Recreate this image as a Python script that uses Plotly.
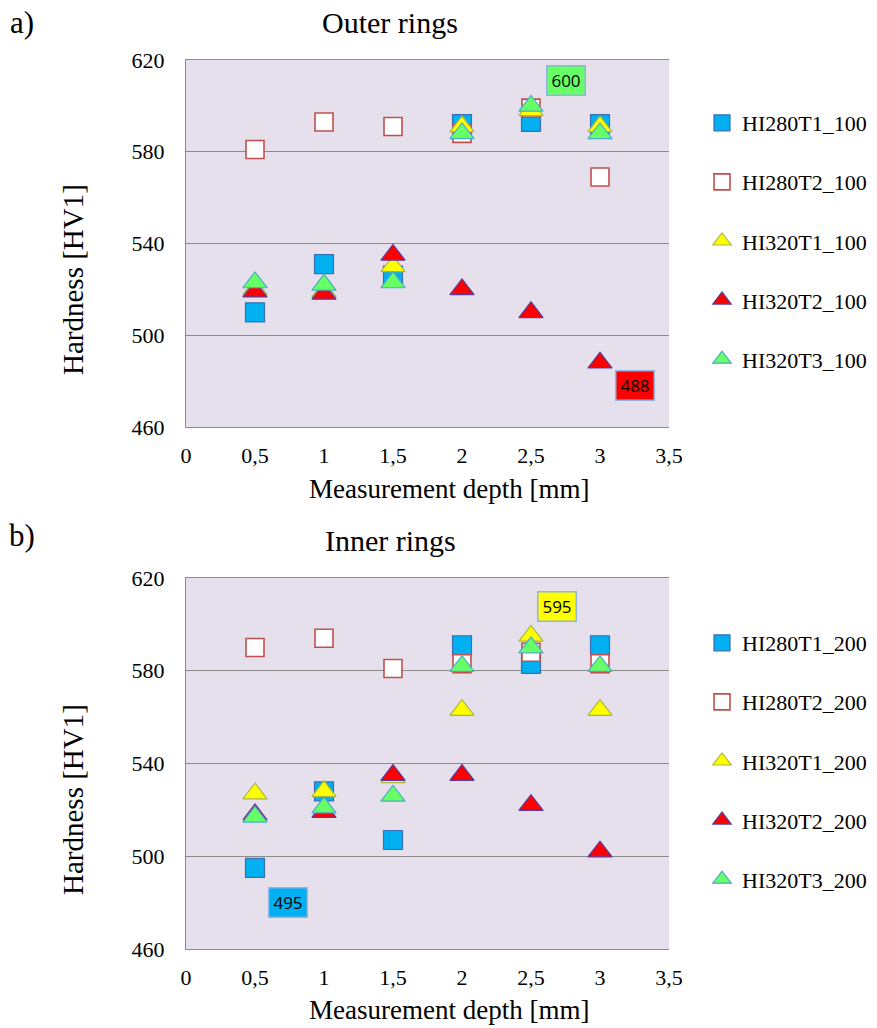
import plotly.graph_objects as go

# ---------------- data ----------------
depth = [0.5, 1, 1.5, 2, 2.5, 3]

# a) Outer rings
HI280T1_100 = [510, 531, 526, 592, 593, 592]
HI280T2_100 = [581, 593, 591, 588, 599, 569]
HI320T1_100 = [520, 519, 530, 591, 598, 591]
HI320T2_100 = [519, 518, 535, 520, 510, 488]
HI320T3_100 = [523, 522, 523, 588, 600, 588]

# b) Inner rings
HI280T1_200 = [495, 528, 507, 591, 583, 591]
HI280T2_200 = [590, 594, 581, 583, 588, 583]
HI320T1_200 = [527, 528, 534, 563, 595, 563]
HI320T2_200 = [518, 519, 535, 535, 522, 502]
HI320T3_200 = [517, 521, 526, 582, 590, 582]

x_tickvals = [0, 0.5, 1, 1.5, 2, 2.5, 3, 3.5]
x_ticktext = ["0", "0,5", "1", "1,5", "2", "2,5", "3", "3,5"]
y_tickvals = [460, 500, 540, 580, 620]

# ---------------- styles ----------------
SERIF = "Liberation Serif"
W, H = 877, 1028
styles = [
    dict(symbol="square", size=19, color="#00B0F0", line=dict(color="#3A6FB5", width=1.2)),
    dict(symbol="square", size=18, color="#FFFFFF", line=dict(color="#C0504D", width=1.6)),
    dict(symbol="triangle-up", size=21, color="#FFFF00", line=dict(color="#A8B83C", width=1.2)),
    dict(symbol="triangle-up", size=21, color="#FF0000", line=dict(color="#5B3C9E", width=1.2)),
    dict(symbol="triangle-up", size=21, color="#66FF66", line=dict(color="#4BACC6", width=1.2)),
]

outer = [("HI280T1_100", HI280T1_100), ("HI280T2_100", HI280T2_100),
         ("HI320T1_100", HI320T1_100), ("HI320T2_100", HI320T2_100),
         ("HI320T3_100", HI320T3_100)]
inner = [("HI280T1_200", HI280T1_200), ("HI280T2_200", HI280T2_200),
         ("HI320T1_200", HI320T1_200), ("HI320T2_200", HI320T2_200),
         ("HI320T3_200", HI320T3_200)]

fig = go.Figure()
for (name, vals), st in zip(outer, styles):
    fig.add_trace(go.Scatter(x=depth, y=vals, mode="markers", name=name,
                             marker=st, xaxis="x", yaxis="y",
                             legend="legend", legendgroup=name))
for (name, vals), st in zip(inner, styles):
    fig.add_trace(go.Scatter(x=depth, y=vals, mode="markers", name=name,
                             marker=st, xaxis="x2", yaxis="y2",
                             legend="legend2", legendgroup=name))

def px_x(p):
    return p / W

def px_y(p):
    return 1 - p / H

xdom = [px_x(186), px_x(669)]
ydom1 = [px_y(427), px_y(60)]
ydom2 = [px_y(949), px_y(578)]

axis_common_x = dict(range=[0, 3.5], tickvals=x_tickvals, ticktext=x_ticktext,
                     showgrid=False, zeroline=False, showline=True, mirror=True,
                     linecolor="#8C8C8C", linewidth=1.3, ticks="",
                     ticklabelstandoff=8,
                     tickfont=dict(family=SERIF, size=22, color="#000"))
axis_common_y = dict(range=[460, 620], tickvals=y_tickvals,
                     showgrid=True, gridcolor="#8C8C8C", gridwidth=1.2,
                     zeroline=False, showline=True, linecolor="#8C8C8C", linewidth=1.3,
                     ticks="", ticklabelstandoff=16,
                     tickfont=dict(family=SERIF, size=22, color="#000"))

legend_common = dict(font=dict(family=SERIF, size=22, color="#000"),
                     bgcolor="rgba(0,0,0,0)", tracegroupgap=27.5,
                     itemsizing="trace", itemwidth=30,
                     xanchor="left", yanchor="top")

fig.update_layout(
    width=W, height=H,
    margin=dict(l=0, r=0, t=0, b=0, autoexpand=False),
    paper_bgcolor="white",
    plot_bgcolor="#E6E0EC",
    showlegend=True,
    xaxis=dict(domain=xdom, anchor="y", **axis_common_x),
    yaxis=dict(domain=ydom1, anchor="x", **axis_common_y),
    xaxis2=dict(domain=xdom, anchor="y2", **axis_common_x),
    yaxis2=dict(domain=ydom2, anchor="x2", **axis_common_y),
    legend=dict(x=px_x(702), y=px_y(102), **legend_common),
    legend2=dict(x=px_x(702), y=px_y(622), **legend_common),
)

ann = []
def text_ann(x, y, text, size, angle=0):
    ann.append(dict(x=px_x(x), y=px_y(y), xref="paper", yref="paper", text=text,
                    showarrow=False, textangle=angle,
                    font=dict(family=SERIF, size=size, color="#000"),
                    xanchor="center", yanchor="middle"))

text_ann(22, 22, "a)", 31)
text_ann(390, 22, "Outer rings", 30)
text_ann(22, 535, "b)", 31)
text_ann(390, 540, "Inner rings", 30)
text_ann(449, 489, "Measurement depth [mm]", 27)
text_ann(449, 1010, "Measurement depth [mm]", 27)
text_ann(73, 280, "Hardness [HV1]", 29, angle=-90)
text_ann(73, 800, "Hardness [HV1]", 29, angle=-90)

def value_box(xref, yref, x, y, value, bg):
    ann.append(dict(x=x, y=y, xref=xref, yref=yref, text=str(value), showarrow=False,
                    bgcolor=bg, bordercolor="#8DB4E2", borderwidth=1.5,
                    width=35, height=26, borderpad=1,
                    font=dict(family="Open Sans", size=17, color="#000"),
                    xanchor="center", yanchor="middle"))

value_box("x", "y", 2.75, 611, HI320T3_100[4], "#66FF66")
value_box("x", "y", 3.25, 478, HI320T2_100[5], "#FF0000")
value_box("x2", "y2", 2.69, 607.5, HI320T1_200[4], "#FFFF00")
value_box("x2", "y2", 0.74, 480, HI280T1_200[0], "#00B0F0")

fig.update_layout(annotations=ann)
fig.write_html("out.html",
               config={"displayModeBar": False},
               post_script="document.body.style.margin='0';document.body.style.overflow='hidden';")
